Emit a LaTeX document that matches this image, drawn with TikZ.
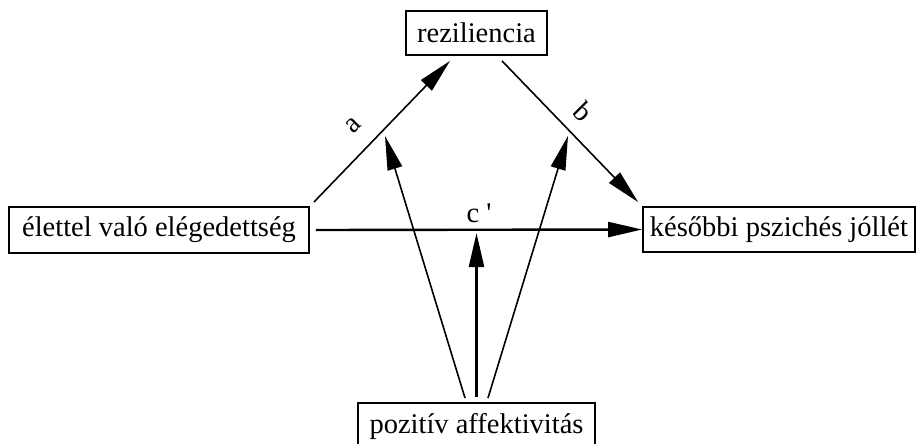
\documentclass[tikz,border=0pt]{standalone}
\usepackage{fontspec}
\setmainfont{Liberation Serif}
\newfontfamily\rawserif{Liberation Serif}
\usetikzlibrary{arrows.meta,calc}
\begin{document}
\begin{tikzpicture}[x=1pt,y=-1pt,
  box/.style={draw,line width=1.8pt,inner sep=0pt,font=\fontsize{28.5}{32}\selectfont},
  head/.style={-{Triangle[length=34pt,width=15pt]}},
  diag/.style={head,line width=1.6pt},
  strong/.style={head,line width=2.4pt},
  lab/.style={font=\fontsize{28.5}{32}\selectfont,inner sep=0pt}]
\useasboundingbox (0,0) rectangle (916,444);
\node[box,minimum width=141pt,minimum height=44pt] (rez) at (476.5,33) {reziliencia};
\node[box,minimum width=300pt,minimum height=46pt] (el) at (159,230) {élettel való elégedettség};
\node[box,minimum width=272pt,minimum height=45pt] (kes) at (779,229.5) {későbbi pszichés jóllét};
\node[box,minimum width=237pt,minimum height=46pt] (poz) at (476.5,426) {pozitív affektivitás};
% endpoints
\coordinate (aS) at ($(el.north east)+(4,-4)$);
\coordinate (aE) at ($(rez.south)+(-26.5,5)$);
\coordinate (bS) at ($(rez.south)+(25.5,5)$);
\coordinate (bE) at ($(kes.north west)+(-4,-4)$);
\coordinate (hS) at ($(el.east)+(6,0)$);
\coordinate (vS) at ($(poz.north)+(0,-5)$);
\coordinate (vE) at (476.5,233);
\coordinate (lS) at (465,398);
\coordinate (lE) at (385,136);
\coordinate (rS) at (488,398);
\coordinate (rE) at (568,136);
\draw[diag] (aS) -- (aE);
\draw[diag] (bS) -- (bE);
\draw[strong] (hS) -- (kes.west);
\draw[strong] (vS) -- (vE);
\draw[diag] (lS) -- (lE);
\draw[diag] (rS) -- (rE);
\node[lab,rotate=45] (la) at (353,125) {a};
\node[lab,rotate=-45] (lb) at (583,112) {b};
\node[lab] (lc) at (479,213) {c {\rawserif '}};
\end{tikzpicture}
\end{document}
